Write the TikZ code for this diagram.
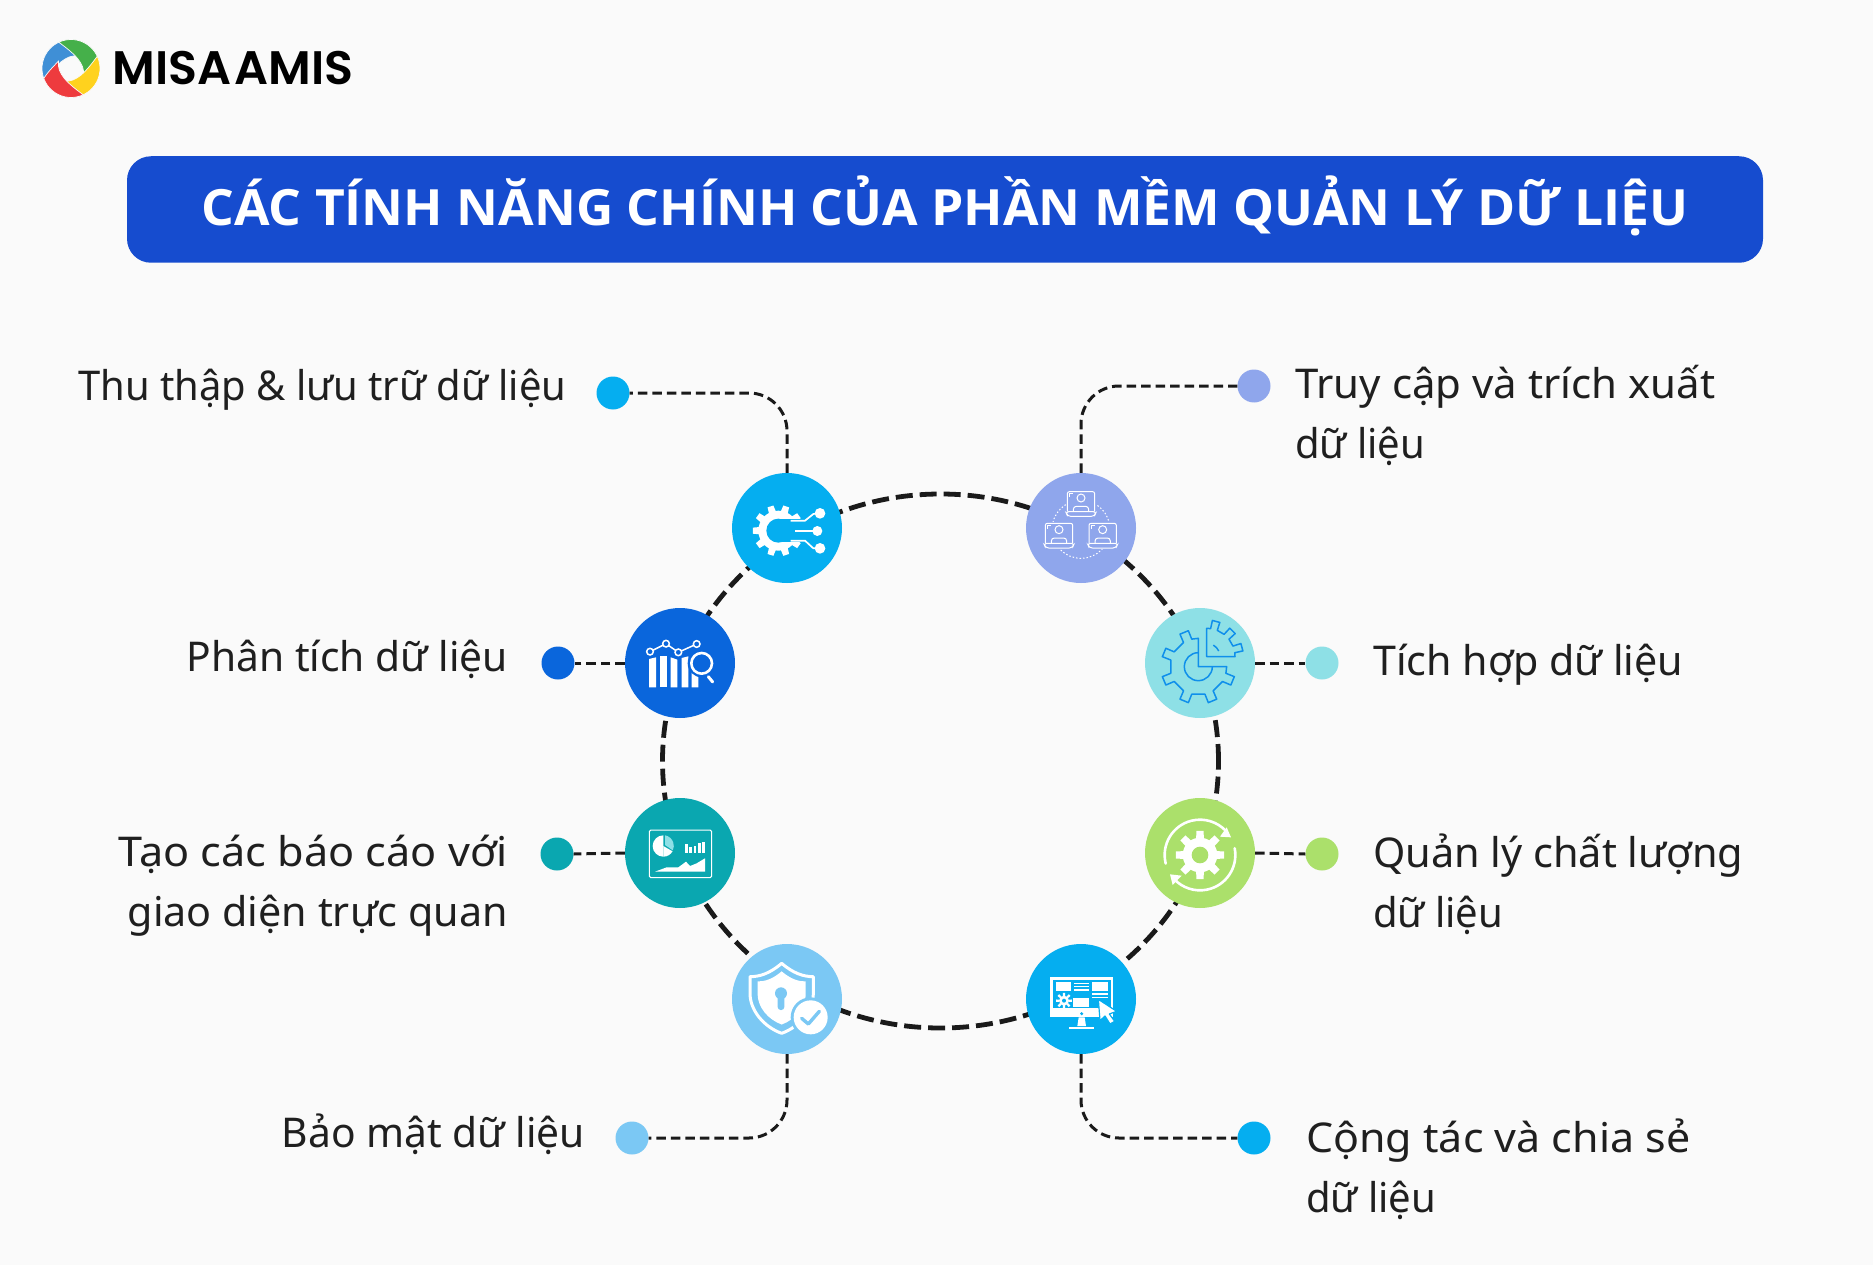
\documentclass[tikz,border=0pt]{standalone}
\usepackage{fontspec}
\usepackage{graphicx}
\setmainfont{Noto Sans}
\newfontfamily\logofont{Poppins SemiBold}
\newfontfamily\titlefont{Open Sans}
\usetikzlibrary{shapes.geometric}
\definecolor{pagebg}{HTML}{FAFAFA}
\definecolor{headblue}{HTML}{164CCF}
\definecolor{cSky}{HTML}{05AEF0}
\definecolor{cPeri}{HTML}{8FA6EC}
\definecolor{cBlue}{HTML}{0A66DC}
\definecolor{cAqua}{HTML}{8EE0E6}
\definecolor{cTeal}{HTML}{0AA7B0}
\definecolor{cLime}{HTML}{ABE06B}
\definecolor{cPale}{HTML}{7BC8F4}
\definecolor{gearblue}{HTML}{0F8FEB}
\definecolor{inkk}{HTML}{1A1A1A}
\tikzset{
  hub/.style={circle,minimum size=110pt,inner sep=0pt,draw=none},
  pin/.style={circle,minimum size=33pt,inner sep=0pt,draw=none},
  ringline/.style={ellipse,draw=inkk,line width=4.8pt,dash pattern=on 17pt off 7pt,minimum width=556pt,minimum height=534pt,inner sep=0pt},
  conn/.style={draw=inkk,line width=3pt,dash pattern=on 9.5pt off 5pt,rounded corners=38pt},
  label/.style={inner sep=0pt,font=\fontsize{41}{60}\selectfont,text=black!88},
  winA/.style={shift={(600,450)},x=.33333pt,y=-.33333pt},
  winB/.style={shift={(1000,450)},x=.33333pt,y=-.33333pt},
  winC/.style={shift={(600,780)},x=.33333pt,y=-.33333pt},
  winD/.style={shift={(1000,780)},x=.33333pt,y=-.33333pt},
}
\newcommand\fitw[2]{\resizebox{#1pt}{\height}{#2}}
\newcommand\zgear[6]{%
  \begin{scope}[shift={(#1,#2)}]
    \fill[#6] (0,0) circle (#3);
    \foreach \k in {1,...,#5}{
      \pgfmathsetmacro\gA{\k*360/#5}
      \pgfmathsetmacro\gW{105/#5}
      \pgfmathsetmacro\gT{68/#5}
      \fill[#6] ({\gA-\gW}:#3-1) -- ({\gA-\gT}:#4) -- ({\gA+\gT}:#4) -- ({\gA+\gW}:#3-1) -- cycle;
    }
  \end{scope}}
\newcommand\zlaptop[2]{%
  \begin{scope}[shift={(#1,#2)},white,line width=1pt]
    \draw[rounded corners=2pt] (-41,24) -- (-41,-36) -- (41,-36) -- (41,24);
    \draw (0,-17) circle (12);
    \draw[rounded corners=3pt] (-23,24) -- (-23,8) -- (23,8) -- (23,24);
    \draw[rounded corners=3pt] (-46,24) -- (46,24) -- (40,38) -- (-40,38) -- cycle;
    \draw (-34,-20) -- (-34,-30) -- (-24,-30);
  \end{scope}}
\newcommand\shieldpath{(545,550) .. controls (510,580) and (480,590) .. (450,590) -- (450,640) .. controls (450,690) and (490,740) .. (545,760) .. controls (600,740) and (640,690) .. (640,640) -- (640,590) .. controls (610,590) and (580,580) .. (545,550) -- cycle}
\begin{document}
\begin{tikzpicture}[x=1pt,y=-1pt]
\useasboundingbox (0,0) rectangle (1873,1265);
\fill[pagebg] (0,0) rectangle (1873,1265);

% logo
\begin{scope}[shift={(71,68.5)},x=1pt,y=1pt]
  \foreach \r/\c in {0/3F8FD6,-90/45B04A,-180/FFD21E,-270/EE3B3E}{
    \definecolor{bladec}{HTML}{\c}
    \fill[bladec,draw=pagebg,line width=.7pt,rotate=\r] (205:29) arc[start angle=205,end angle=110,radius=29]
      .. controls (95:22) and (80:17) .. (60:14.5) .. controls (110:15) and (165:15) .. (205:29) -- cycle;
  }
\end{scope}
\node[anchor=base west,inner sep=0pt,font=\logofont\fontsize{47}{50}\selectfont,text=black] (logotext) at (112.5,85) {\fitw{241}{MISA\hspace{-8pt} AMIS}};

% title bar
\node[fill=headblue,rounded corners=24pt,minimum width=1636pt,minimum height=106.5pt,inner sep=0pt] (header) at (945,209.5) {};
\node[anchor=base,inner sep=0pt,text=white,font=\titlefont\bfseries\fontsize{50}{60}\selectfont] (title) at (945,226) {\fitw{1487}{CÁC TÍNH NĂNG CHÍNH CỦA PHẦN MỀM QUẢN LÝ DỮ LIỆU}};

% ring
\node[ringline] (ring) at (940.5,761) {};

% hubs
\node[hub,fill=cSky]  (h1) at (787,528) {};
\node[hub,fill=cPeri] (h2) at (1081,528) {};
\node[hub,fill=cBlue] (h3) at (680,663) {};
\node[hub,fill=cAqua] (h4) at (1200,663) {};
\node[hub,fill=cTeal] (h5) at (680,853) {};
\node[hub,fill=cLime] (h6) at (1200,853) {};
\node[hub,fill=cPale] (h7) at (787,999) {};
\node[hub,fill=cSky]  (h8) at (1081,999) {};

% pins
\node[pin,fill=cSky]  (d1) at (613,393) {};
\node[pin,fill=cPeri] (d2) at (1254,386) {};
\node[pin,fill=cBlue] (d3) at (558,663) {};
\node[pin,fill=cAqua] (d4) at (1322,663) {};
\node[pin,fill=cTeal] (d5) at (557,854) {};
\node[pin,fill=cLime] (d6) at (1322,854) {};
\node[pin,fill=cPale] (d7) at (632,1138) {};
\node[pin,fill=cSky]  (d8) at (1254,1138) {};

% connectors
\draw[conn] (h1.north) |- (d1.east);
\draw[conn] (h2.north) |- (d2.west);
\draw[conn] (h3.west) -- (d3.east);
\draw[conn] (h4.east) -- (d4.west);
\draw[conn] (h5.west) -- (d5.east);
\draw[conn] (h6.east) -- (d6.west);
\draw[conn] (h7.south) |- (d7.east);
\draw[conn] (h8.south) |- (d8.west);

% icon 1: gear and circuit
\begin{scope}[winA]
  \zgear{535}{242}{60}{77}{10}{white}
  \fill[cSky] (535,242) circle (36);
  \fill[cSky] (535,208) rectangle (640,276);
  \fill[cSky] (610,170) rectangle (640,315);
  \fill[white] (660,190) circle (16);
  \fill[white] (652,243) circle (15);
  \fill[white] (660,295) circle (16);
  \draw[white,line width=1.7pt] (572,212) -- (615,212) -- (640,192) -- (655,190);
  \draw[white,line width=1.7pt] (585,243) -- (645,243);
  \draw[white,line width=1.7pt] (572,272) -- (615,272) -- (640,295) -- (655,295);
\end{scope}

% icon 2: bars and magnifier
\begin{scope}[winA]
  \fill[white] (147,712) -- (147,627) -- (168,622) -- (168,712) -- cycle;
  \fill[white] (180,712) -- (180,619) -- (200,619) -- (200,712) -- cycle;
  \fill[white] (212,712) -- (212,622) -- (232,629) -- (232,712) -- cycle;
  \fill[white] (245,712) -- (245,624) -- (265,619) -- (265,712) -- cycle;
  \fill[white] (275,712) -- (275,665) -- (295,672) -- (295,712) -- cycle;
  \draw[white,line width=1.5pt] (150,605) -- (198,581) -- (235,607) -- (290,582);
  \draw[white,line width=1.5pt,fill=cBlue] (150,605) circle (10);
  \draw[white,line width=1.5pt,fill=cBlue] (198,581) circle (10);
  \draw[white,line width=1.5pt,fill=cBlue] (235,607) circle (10);
  \draw[white,line width=1.5pt,fill=cBlue] (290,582) circle (10);
  \fill[cBlue] (305,640) circle (42);
  \draw[white,line width=2.6pt] (305,640) circle (31);
  \draw[white,line width=3pt,line cap=round] (325,680) -- (338,696);
\end{scope}

% icon 3: three laptops
\begin{scope}[winB]
  \draw[white,line width=1pt,dash pattern=on 1.5pt off 2pt] (243,238) circle (87);
  \fill[cPeri] (198,122) rectangle (288,204);
  \fill[cPeri] (128,216) rectangle (224,298);
  \fill[cPeri] (260,216) rectangle (356,298);
  \zlaptop{243}{161}
  \zlaptop{177}{256}
  \zlaptop{308}{256}
\end{scope}

% icon 4: gear with cut-out sector
\begin{scope}[winB]
  \begin{scope}[shift={(595,650)},gearblue,line width=1.5pt,line join=round]
    \draw (0,0) -- (-90:85)
      \foreach \q in {-112.5,-157.5,-202.5,-247.5,-292.5,-337.5}{
        -- ({\q+9}:85) -- ({\q+7}:112) -- ({\q-7}:112) -- ({\q-9}:85)
      } -- (0:85) -- cycle;
    \draw (-90:42) arc[start angle=-90,end angle=-360,radius=42];
  \end{scope}
  \begin{scope}[shift={(620,620)},gearblue,line width=1.5pt,line join=round]
    \draw (0,0) -- (-90:85)
      \foreach \q in {-75,-45,-15}{
        -- ({\q-7}:85) -- ({\q-6}:110) -- ({\q+6}:110) -- ({\q+7}:85)
      } -- (0:85) -- cycle;
    \draw (-60:40) arc[start angle=-60,end angle=-25,radius=40];
  \end{scope}
\end{scope}

% icon 5: report board
\begin{scope}[winC]
  \draw[white,line width=1pt,rounded corners=1.5pt] (148,150) rectangle (335,293);
  \fill[white] (190,198) -- (190,166) arc[start angle=-90,end angle=-270,radius=32] -- cycle;
  \fill[white] (190,198) -- (190,230) arc[start angle=90,end angle=30,radius=32] -- cycle;
  \fill[cAqua] (195,195) -- (195,166) arc[start angle=-80,end angle=25,radius=32] -- cycle;
  \fill[white] (255,193) rectangle (263,218);
  \fill[white] (268,202) rectangle (276,218);
  \fill[white] (281,198) rectangle (289,218);
  \fill[white] (294,190) rectangle (302,218);
  \fill[white] (306,187) rectangle (314,218);
  \fill[white] (165,275) -- (200,262) -- (235,262) -- (258,245) -- (270,258) -- (290,250) -- (315,235) -- (315,275) -- cycle;
\end{scope}

% icon 6: shield
\begin{scope}[winC]
  \draw[white,line width=3pt,line join=round] \shieldpath;
  \fill[white,shift={(545,650)},scale=.76,shift={(-545,-650)}] \shieldpath;
  \fill[cPale] (543,640) circle (18);
  \fill[cPale,rounded corners=3pt] (533,645) rectangle (553,690);
  \fill[cPale] (632,712) circle (60);
  \fill[white] (632,712) circle (51);
  \draw[cPale,line width=3.4pt,line cap=round,line join=round] (605,715) -- (625,732) -- (658,694);
\end{scope}

% icon 7: monitor
\begin{scope}[winD]
  \fill[white] (150,590) rectangle (340,712);
  \fill[cSky] (158,600) rectangle (333,685);
  \fill[white] (167,607) rectangle (213,632);
  \foreach \yy in {610,620,630}{\fill[white] (222,\yy-2) rectangle (268,\yy+2);}
  \fill[white] (275,607) rectangle (323,632);
  \zgear{192}{662}{15}{24}{8}{white}
  \fill[cSky] (192,662) circle (6);
  \fill[white] (220,655) rectangle (268,682);
  \foreach \yy in {642,652}{\fill[white] (275,\yy-2) rectangle (323,\yy+2);}
  \fill[cSky] (245,701) circle (5);
  \fill[white] (236,712) -- (254,712) -- (258,738) -- (232,738) -- cycle;
  \fill[white] (208,740) rectangle (282,747);
  \fill[white,draw=cSky,line width=1.2pt,line join=round] (295,658) -- (350,694) -- (328,702) -- (344,724) -- (330,732) -- (315,708) -- (300,722) -- cycle;
\end{scope}

% icon 8: quality cycle
\begin{scope}[winD]
  \zgear{600}{225}{52}{73}{8}{white}
  \fill[cLime] (600,225) circle (25);
  \begin{scope}[shift={(600,225)},white,line width=2.6pt,line cap=round]
    \draw (166:106) arc[start angle=166,end angle=318,radius=106];
    \draw (-11:106) arc[start angle=-11,end angle=137,radius=106];
  \end{scope}
  \fill[white] (693,172) -- (660,170) -- (680,142) -- cycle;
  \fill[white] (510,283) -- (545,287) -- (518,315) -- cycle;
\end{scope}

% labels
\node[label,anchor=base east] (t1) at (566.5,400) {\fitw{488}{Thu thập \& lưu trữ dữ liệu}};
\node[label,anchor=base west] (t2) at (1295,398) {\fitw{420}{Truy cập và trích xuất}};
\node[label,anchor=base west] (t2b) at (1295,458) {\fitw{130}{dữ liệu}};
\node[label,anchor=base east] (t3) at (508,671) {\fitw{321}{Phân tích dữ liệu}};
\node[label,anchor=base west] (t4) at (1373,675) {\fitw{310}{Tích hợp dữ liệu}};
\node[label,anchor=base east] (t5) at (508,866) {\fitw{389}{Tạo các báo cáo với}};
\node[label,anchor=base east] (t5b) at (508,926) {\fitw{380}{giao diện trực quan}};
\node[label,anchor=base west] (t6) at (1373,867) {\fitw{370}{Quản lý chất lượng}};
\node[label,anchor=base west] (t6b) at (1373,927) {\fitw{130}{dữ liệu}};
\node[label,anchor=base east] (t7) at (585,1147) {\fitw{303}{Bảo mật dữ liệu}};
\node[label,anchor=base west] (t8) at (1306,1152) {\fitw{384}{Cộng tác và chia sẻ}};
\node[label,anchor=base west] (t8b) at (1306,1212) {\fitw{130}{dữ liệu}};
\end{tikzpicture}
\end{document}
